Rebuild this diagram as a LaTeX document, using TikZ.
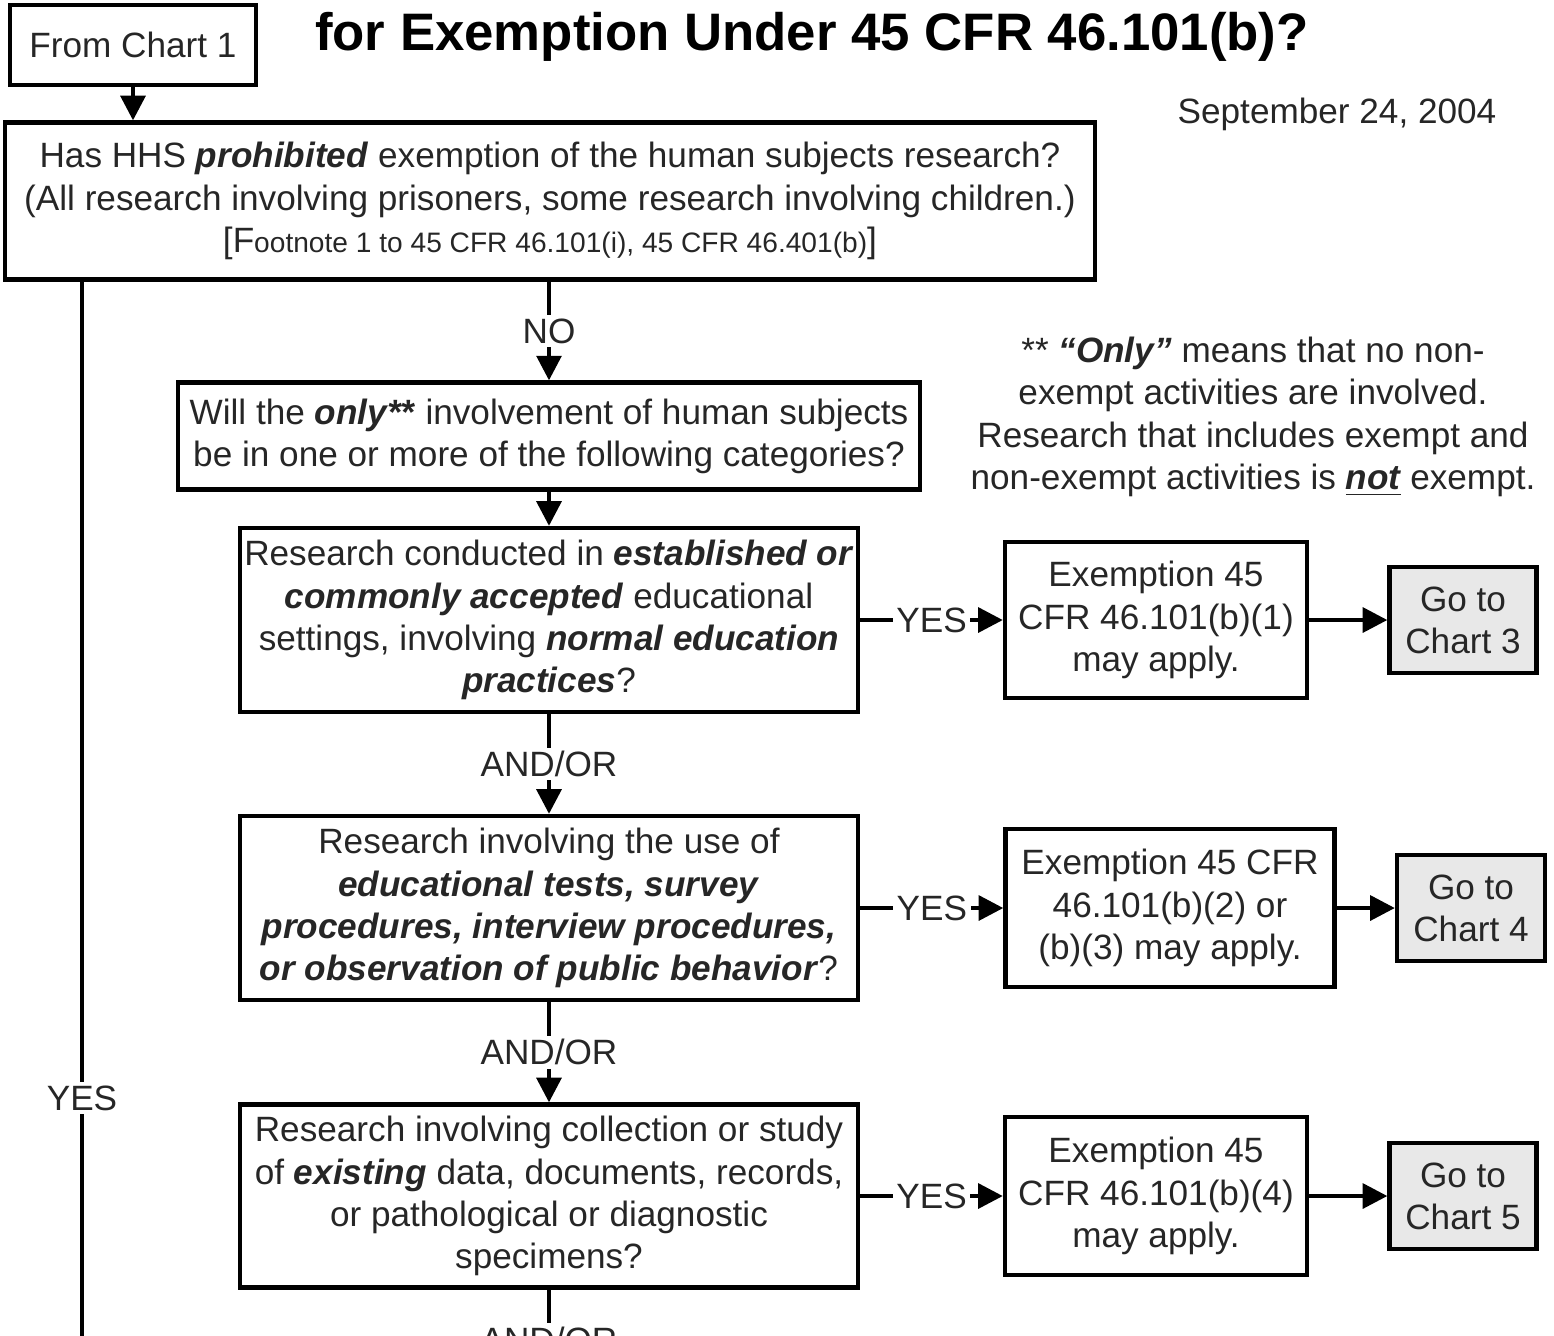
\documentclass[tikz,border=0pt]{standalone}
\usepackage{fontspec}
\setmainfont{Liberation Sans}
\usetikzlibrary{arrows.meta}
\newcommand{\bi}[1]{\textbf{\textit{#1}}}
\tikzset{
  box/.style={draw,line width=1.2pt,align=center,inner sep=0pt,text=black!85},
  gobox/.style={box,fill=gray!18},
  flow/.style={line width=1.2pt,-{Triangle[length=7pt,width=7pt]}},
  plain/.style={line width=1.2pt},
  lbl/.style={fill=white,inner sep=1pt,text=black!85}
}
\begin{document}
\begin{tikzpicture}[x=0.01cm,y=-0.01cm,every node/.append style={font=\fontsize{10}{12}\selectfont}]
  \useasboundingbox (0,0) rectangle (1554,1335);
  % header
  \node[box,minimum width=2.46cm,minimum height=0.8cm] (from) at (133,45) {From Chart 1};
  \node[font=\fontsize{15}{18}\selectfont\bfseries] (title) at (812,37) {for Exemption Under 45 CFR 46.101(b)?};
  \node[text=black!85] (date) at (1337,114) {September 24, 2004};
  % questions
  \node[box,minimum width=10.9cm,minimum height=1.57cm] (hhs) at (550,201)
    {Has HHS \bi{prohibited} exemption of the human subjects research?\\
     (All research involving prisoners, some research involving children.)\\
     {\fontsize{8}{12}\selectfont{\fontsize{10}{12}\selectfont[F}ootnote 1 to 45 CFR 46.101(i), 45 CFR 46.401(b){\fontsize{10}{12}\selectfont]}}};
  \node[box,minimum width=7.42cm,minimum height=1.07cm] (only) at (549,436)
    {Will the \bi{only**} involvement of human subjects\\
     be in one or more of the following categories?};
  \node[align=center,text=black!85] (note) at (1253,417)
    {** \bi{“Only”} means that no non-\\
     exempt activities are involved.\\
     Research that includes exempt and\\
     non-exempt activities is \bi{\underline{not}} exempt.};
  \node[box,minimum width=6.18cm,minimum height=1.84cm] (edu) at (549,620)
    {Research conducted in \bi{established or}\\
     \bi{commonly accepted} educational\\
     settings, involving \bi{normal education}\\
     \bi{practices}?};
  \node[box,minimum width=6.18cm,minimum height=1.84cm] (tests) at (549,908)
    {Research involving the use of\\
     \bi{educational tests, survey}\\
     \bi{procedures, interview procedures,}\\
     \bi{or observation of public behavior}?};
  \node[box,minimum width=6.18cm,minimum height=1.83cm] (data) at (549,1196)
    {Research involving collection or study\\
     of \bi{existing} data, documents, records,\\
     or pathological or diagnostic\\
     specimens?};
  % exemptions
  \node[box,minimum width=3.02cm,minimum height=1.56cm] (ex1) at (1156,620)
    {Exemption 45\\ CFR 46.101(b)(1)\\ may apply.};
  \node[box,minimum width=3.29cm,minimum height=1.58cm] (ex2) at (1170,908)
    {Exemption 45 CFR\\ 46.101(b)(2) or\\ (b)(3) may apply.};
  \node[box,minimum width=3.02cm,minimum height=1.58cm] (ex3) at (1156,1196)
    {Exemption 45\\ CFR 46.101(b)(4)\\ may apply.};
  \node[gobox,minimum width=1.47cm,minimum height=1.06cm] (go3) at (1463,620) {Go to\\ Chart 3};
  \node[gobox,minimum width=1.48cm,minimum height=1.06cm] (go4) at (1471,908) {Go to\\ Chart 4};
  \node[gobox,minimum width=1.47cm,minimum height=1.06cm] (go5) at (1463,1196) {Go to\\ Chart 5};
  \coordinate (yesend) at (82,1345);
  \node[lbl] (andor3) at (549,1340) {AND/OR};
  % connectors
  \draw[flow] (from) -- (hhs.north -| from);
  \draw[flow] (hhs.south -| only) -- node[lbl]{NO} (only);
  \draw[plain] (hhs.south -| yesend) -- node[lbl,pos=0.768]{YES} (yesend);
  \draw[flow] (only) -- (edu);
  \draw[flow] (edu) -- node[lbl]{AND/OR} (tests);
  \draw[flow] (tests) -- node[lbl]{AND/OR} (data);
  \draw[plain] (data) -- (andor3);
  \draw[flow] (edu) -- node[lbl]{YES} (ex1);
  \draw[flow] (tests) -- node[lbl]{YES} (ex2);
  \draw[flow] (data) -- node[lbl]{YES} (ex3);
  \draw[flow] (ex1) -- (go3);
  \draw[flow] (ex2) -- (go4);
  \draw[flow] (ex3) -- (go5);
\end{tikzpicture}
\end{document}
